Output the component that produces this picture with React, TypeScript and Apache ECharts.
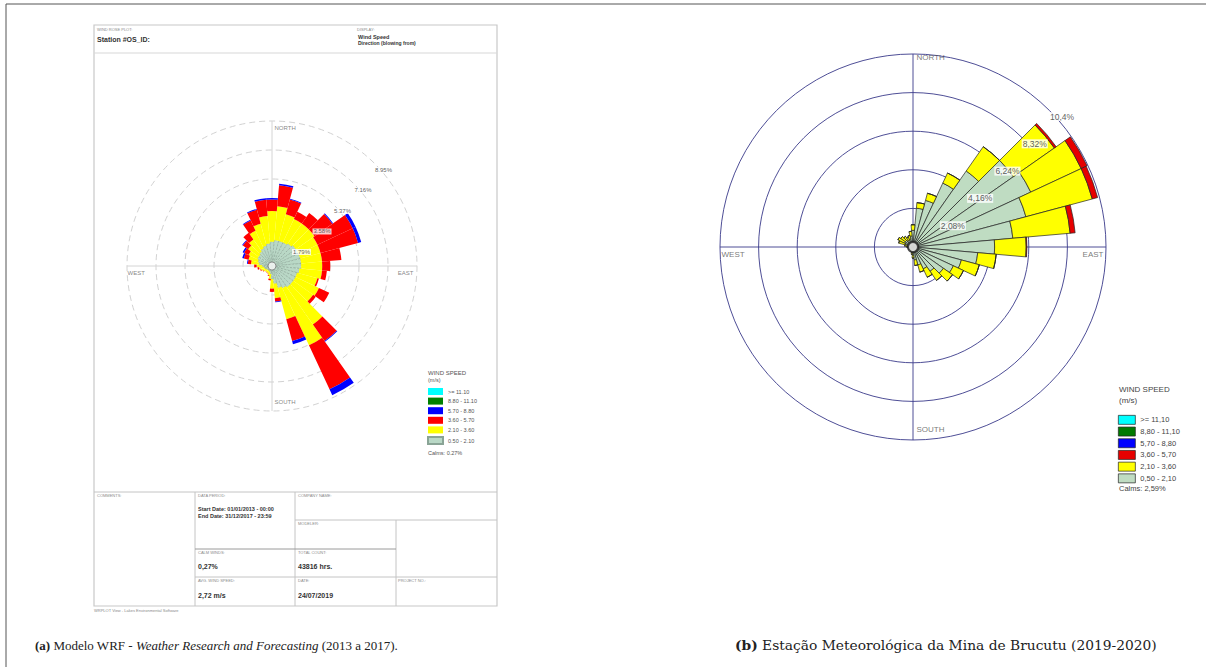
import React, { useEffect, useRef } from 'react';
import * as echarts from 'echarts';

// ---------- DATA ----------
const DIRECTIONS = ['0','10','20','30','40','50','60','70','80','90','100','110','120','130','140','150','160','170','180','190','200','210','220','230','240','250','260','270','280','290','300','310','320','330','340','350'];

const LEFT_SPEED_BANDS = ['0.50 - 2.10', '2.10 - 3.60', '3.60 - 5.70', '5.70 - 8.80', '8.80 - 11.10', '>= 11.10'];
const RIGHT_SPEED_BANDS = ['0,50 - 2,10', '2,10 - 3,60', '3,60 - 5,70', '5,70 - 8,80', '8,80 - 11,10', '>= 11,10'];

// (a) WRF model, frequency % per direction (blowing from), per speed class
const LEFT_05_21 = [1.5,1.6,1.6,1.6,1.7,1.8,1.8,1.8,1.8,1.8,1.7,1.6,1.6,1.6,1.6,1.5,1.4,1.1,0.8,0.5,0.4,0.35,0.35,0.35,0.4,0.45,0.5,0.6,0.8,0.9,1.0,1.0,1.1,1.2,1.3,1.4];
const LEFT_21_36 = [1.9,2.1,1.7,1.6,1.5,1.4,1.3,1.3,1.3,1.3,1.4,1.3,1.6,1.5,2.8,3.9,2.0,0.9,0.6,0.3,0.2,0.15,0.15,0.15,0.2,0.25,0.3,0.35,0.5,0.6,0.6,0.8,0.9,1.2,1.4,1.7];
const LEFT_36_57 = [0.7,1.3,0.95,0.5,0.8,1.35,2.4,2.4,1.2,0.5,0.3,0.1,0.7,0.2,1.25,3.0,1.4,0.2,0.2,0.1,0.05,0.03,0.02,0.02,0.03,0.05,0.1,0.15,0.2,0.3,0.3,0.4,0.5,0.7,0.9,1.0];
const LEFT_57_88 = [0.1,0.1,0.05,0,0,0.05,0.2,0.2,0,0,0,0,0,0,0.05,0.4,0.2,0.05,0,0,0,0,0,0,0,0,0,0,0.05,0.1,0.1,0.05,0,0.05,0.05,0.1];
const LEFT_88_111: number[] = [];
const LEFT_GE_111: number[] = [];

// (b) Brucutu station
const RIGHT_05_21 = [0.9,2.1,2.6,3.8,5.0,6.6,7.0,6.3,5.4,4.4,3.5,2.7,2.4,2.0,1.6,1.3,1.0,0.7,0.45,0.3,0.22,0.2,0.18,0.18,0.2,0.2,0.22,0.25,0.3,0.45,0.5,0.5,0.45,0.4,0.45,0.6];
const RIGHT_21_36 = [0.3,0.3,0.4,0.6,1.6,2.7,3.0,3.7,3.1,1.7,1.0,1.0,0.6,0.6,0.6,0.5,0.4,0.3,0.15,0.1,0.05,0.05,0.04,0.04,0.05,0.05,0.05,0.08,0.15,0.35,0.4,0.3,0.25,0.2,0.2,0.25];
const RIGHT_36_57 = [0,0,0,0,0,0.12,0.35,0.3,0.27,0.04,0,0,0,0,0,0,0,0,0,0,0,0,0,0,0,0,0,0,0,0,0,0,0,0,0,0];
const RIGHT_57_88: number[] = [];
const RIGHT_88_111: number[] = [];
const RIGHT_GE_111: number[] = [];

const LEFT_RING_VALUES = [1.79, 3.58, 5.37, 7.16, 8.95];
const LEFT_RING_LABELS = ['1.79%', '3.58%', '5.37%', '7.16%', '8.95%'];
const RIGHT_RING_VALUES = [2.08, 4.16, 6.24, 8.32, 10.4];
const RIGHT_RING_LABELS = ['2,08%', '4,16%', '6,24%', '8,32%', '10,4%'];
const RING_LABEL_ANGLE = 45;

const COMPASS_NAMES = ['NORTH', 'EAST', 'SOUTH', 'WEST'];
const COMPASS_ANGLES = [0, 90, 180, 270];

const LEFT_CALMS = 'Calms: 0.27%';
const RIGHT_CALMS = 'Calms: 2,59%';

// ---------- STYLE ----------
const SANS = "'Liberation Sans', Arial, sans-serif";
const SERIF = "'Liberation Serif', 'DejaVu Serif', serif";
const SERIF_WIDE = "'DejaVu Serif', 'Liberation Serif', serif";
const BAND_COLORS = ['#b9d8c6', '#ffff00', '#ff0000', '#0000ff', '#008000', '#00ffff'];
const RIGHT_BAND_COLORS = ['#bfdcc2', '#ffff00', '#e60000', '#0000ff', '#007a00', '#00ffff'];

const L_CENTER = [272, 266];
const L_RADIUS = 145;
const R_CENTER = [913, 247];
const R_RADIUS = 193;

function buildOption() {
  const leftData = [LEFT_05_21, LEFT_21_36, LEFT_36_57, LEFT_57_88, LEFT_88_111, LEFT_GE_111];
  const rightData = [RIGHT_05_21, RIGHT_21_36, RIGHT_36_57, RIGHT_57_88, RIGHT_88_111, RIGHT_GE_111];
  const lMax = LEFT_RING_VALUES[LEFT_RING_VALUES.length - 1];
  const rMax = RIGHT_RING_VALUES[RIGHT_RING_VALUES.length - 1];

  const leftBars = leftData.map((d, i) => ({
    type: 'bar',
    name: LEFT_SPEED_BANDS[i],
    coordinateSystem: 'polar',
    polarIndex: 0,
    stack: 'left',
    data: d,
    barCategoryGap: '0%',
    silent: true,
    itemStyle: i === 0
      ? { color: BAND_COLORS[i], borderColor: '#8aa496', borderWidth: 0.6, borderType: 'dashed' }
      : { color: BAND_COLORS[i], borderWidth: 0 },
    z: 2,
  }));
  const rightBars = rightData.map((d, i) => ({
    type: 'bar',
    name: RIGHT_SPEED_BANDS[i],
    coordinateSystem: 'polar',
    polarIndex: 1,
    stack: 'right',
    data: d,
    barCategoryGap: '0%',
    silent: true,
    itemStyle: { color: RIGHT_BAND_COLORS[i], borderColor: '#222', borderWidth: 0.7 },
    z: 2,
  }));

  const ringLabelSeries = (polarIndex: number, values: number[], labels: string[], fontSize: number, dy: number) => ({
    type: 'scatter',
    coordinateSystem: 'polar',
    polarIndex,
    symbolSize: 1,
    silent: true,
    z: 6,
    itemStyle: { color: 'rgba(0,0,0,0)' },
    data: values.map((r, i) => ({ value: [r, RING_LABEL_ANGLE], name: labels[i] })),
    label: {
      show: true, formatter: '{b}', position: [0, dy], align: 'left', verticalAlign: 'top',
      fontSize, color: '#333', fontFamily: SANS, backgroundColor: '#ffffff', padding: [0, 1],
    },
  });

  const compassSeries = (polarIndex: number, max: number, fontSize: number, offsets: number[][], color: string) => ({
    type: 'scatter',
    coordinateSystem: 'polar',
    polarIndex,
    symbolSize: 1,
    silent: true,
    z: 6,
    itemStyle: { color: 'rgba(0,0,0,0)' },
    data: COMPASS_NAMES.map((n, i) => ({
      value: [max, COMPASS_ANGLES[i]],
      name: n,
      label: { position: offsets[i], align: i === 1 ? 'right' : 'left' },
    })),
    label: { show: true, formatter: '{b}', verticalAlign: 'top', fontSize, color, fontFamily: SANS },
  });

  const centerDot = (polarIndex: number, size: number, border: string, bw: number) => ({
    type: 'scatter', coordinateSystem: 'polar', polarIndex, silent: true, z: 7,
    symbol: 'circle', symbolSize: size,
    itemStyle: { color: '#ffffff', borderColor: border, borderWidth: bw },
    data: [[0, 0]],
  });

  const gridAngle = (polarIndex: number, color: string, width: number) => ({
    polarIndex, type: 'value', min: 0, max: 360, interval: 90, startAngle: 90, clockwise: true,
    axisLine: { show: false }, axisTick: { show: false }, axisLabel: { show: false },
    splitLine: { show: true, lineStyle: { color, width } },
  });
  const gridRadius = (polarIndex: number, max: number, interval: number, color: string, width: number, type: any) => ({
    polarIndex, type: 'value', min: 0, max, interval,
    axisLine: { show: false }, axisTick: { show: false }, axisLabel: { show: false },
    splitLine: { show: true, lineStyle: { color, width, type } },
  });

  const tiny = (text: string, x: number, y: number) => ({
    type: 'text', x, y, silent: true,
    style: { text, fontSize: 4, fontFamily: SANS, fill: '#8a8a8a', align: 'left', verticalAlign: 'middle' },
  });
  const bold = (text: string, x: number, y: number, fontSize: number) => ({
    type: 'text', x, y, silent: true,
    style: { text, fontSize, fontFamily: SANS, fontWeight: 'bold', fill: '#333', align: 'left', verticalAlign: 'middle' },
  });
  const ln = (x1: number, y1: number, x2: number, y2: number, stroke = '#c4c4c4', lineWidth = 1) => ({
    type: 'line', silent: true, shape: { x1, y1, x2, y2 }, style: { stroke, lineWidth },
  });
  const txt = (text: string, x: number, y: number, fontSize: number, fill = '#444', align = 'left') => ({
    type: 'text', x, y, silent: true,
    style: { text, fontSize, fontFamily: SANS, fill, align, verticalAlign: 'middle' },
  });

  const graphic = [
    // outer page frame
    ln(6, 4, 1206, 4, '#555', 1),
    ln(6, 4, 6, 667, '#555', 1),
    // left document frame
    { type: 'rect', silent: true, shape: { x: 94, y: 25, width: 403, height: 581 }, style: { fill: 'none', stroke: '#c8c8c8', lineWidth: 1.2 } },
    ln(94, 53, 497, 53, '#d8d8d8', 1.2),
    tiny('WIND ROSE PLOT:', 97, 29),
    bold('Station #OS_ID:', 97, 39, 7),
    tiny('DISPLAY:', 357, 29),
    bold('Wind Speed', 358, 37, 5.5),
    bold('Direction (blowing from)', 358, 43, 5),
    // bottom table
    ln(94, 492, 497, 492),
    ln(195, 492, 195, 606),
    ln(295, 492, 295, 606),
    ln(396, 520, 396, 606),
    ln(295, 520, 497, 520),
    ln(195, 549, 396, 549, '#9a9a9a', 1),
    ln(195, 577, 497, 577),
    tiny('COMMENTS:', 97, 495),
    tiny('DATA PERIOD:', 198, 495),
    bold('Start Date: 01/01/2013 - 00:00', 198, 509, 5.5),
    bold('End Date: 31/12/2017 - 23:59', 198, 516, 5.5),
    tiny('COMPANY NAME:', 298, 495),
    tiny('MODELER:', 298, 523),
    tiny('CALM WINDS:', 198, 552),
    bold('0,27%', 198, 566, 7),
    tiny('TOTAL COUNT:', 298, 552),
    bold('43816 hrs.', 298, 566, 7),
    tiny('AVG. WIND SPEED:', 198, 580),
    bold('2,72 m/s', 198, 595, 7),
    tiny('DATE:', 298, 580),
    bold('24/07/2019', 298, 595, 7),
    tiny('PROJECT NO.:', 398, 580),
    tiny('WRPLOT View - Lakes Environmental Software', 94, 610),
    // left legend headings
    txt('WIND SPEED', 428, 373, 6, '#555'),
    txt('(m/s)', 428, 380, 5.5, '#555'),
    txt(LEFT_CALMS, 428, 453, 5.5, '#555'),
    // right legend headings
    txt('WIND SPEED', 1119, 389, 8, '#444'),
    txt('(m/s)', 1119, 400, 8, '#444'),
    txt(RIGHT_CALMS, 1119, 488, 7.5, '#444'),
    // captions
    {
      type: 'text', x: 35, y: 645, silent: true,
      style: {
        text: '{b|(a)} Modelo WRF - {i|Weather Research and Forecasting} (2013 a 2017).',
        fontSize: 13, fontFamily: SERIF, fill: '#222', verticalAlign: 'middle',
        rich: {
          b: { fontWeight: 'bold', fontSize: 13, fontFamily: SERIF, fill: '#222' },
          i: { fontStyle: 'italic', fontSize: 13, fontFamily: SERIF, fill: '#222' },
        },
      },
    },
    {
      type: 'text', x: 735, y: 645, silent: true,
      style: {
        text: '{b|(b)} Estação Meteorológica da Mina de Brucutu (2019-2020)',
        fontSize: 13.8, fontFamily: SERIF_WIDE, fill: '#222', verticalAlign: 'middle',
        rich: { b: { fontWeight: 'bold', fontSize: 13.8, fontFamily: SERIF_WIDE, fill: '#222' } },
      },
    },
  ];

  return {
    animation: false,
    backgroundColor: '#ffffff',
    textStyle: { fontFamily: SANS },
    polar: [
      { center: L_CENTER, radius: L_RADIUS },
      { center: R_CENTER, radius: R_RADIUS },
      { center: L_CENTER, radius: L_RADIUS },
      { center: R_CENTER, radius: R_RADIUS },
    ],
    angleAxis: [
      { polarIndex: 0, type: 'category', data: DIRECTIONS, startAngle: 95, clockwise: true, boundaryGap: true, show: false },
      { polarIndex: 1, type: 'category', data: DIRECTIONS, startAngle: 95, clockwise: true, boundaryGap: true, show: false },
      gridAngle(2, '#d4d4d4', 1),
      gridAngle(3, '#3a3a8a', 0.9),
    ],
    radiusAxis: [
      { polarIndex: 0, type: 'value', min: 0, max: lMax, show: false },
      { polarIndex: 1, type: 'value', min: 0, max: rMax, show: false },
      gridRadius(2, lMax, LEFT_RING_VALUES[0], '#d2d2d2', 1, [6, 4]),
      gridRadius(3, rMax, RIGHT_RING_VALUES[0], '#3a3a8a', 0.9, 'solid'),
    ],
    legend: [
      {
        data: [...LEFT_SPEED_BANDS].reverse(), orient: 'vertical', left: 427, top: 388,
        itemWidth: 15, itemHeight: 7, itemGap: 2.6, icon: 'rect', selectedMode: false,
        textStyle: { fontSize: 5.5, color: '#555', fontFamily: SANS, lineHeight: 7 }, padding: 0,
      },
      {
        data: [...RIGHT_SPEED_BANDS].reverse(), orient: 'vertical', left: 1118, top: 415,
        itemWidth: 17, itemHeight: 9, itemGap: 2, icon: 'rect', selectedMode: false,
        itemStyle: { borderWidth: 0.7, borderColor: '#222' },
        textStyle: { fontSize: 7.5, color: '#444', fontFamily: SANS, lineHeight: 9 }, padding: 0,
      },
    ],
    graphic,
    series: [
      ...leftBars,
      ...rightBars,
      ringLabelSeries(2, LEFT_RING_VALUES, LEFT_RING_LABELS, 6, 4),
      ringLabelSeries(3, RIGHT_RING_VALUES, RIGHT_RING_LABELS, 8.5, 2),
      compassSeries(2, lMax, 6, [[3, 4], [-3, 4], [3, -12], [1, 4]], '#666'),
      compassSeries(3, rMax, 8, [[4, 0], [-2, 4], [4, -14], [2, 4]], '#555'),
      centerDot(2, 8, '#777', 1),
      centerDot(3, 10, '#222', 2),
    ],
  };
}

export default function App() {
  const ref = useRef<HTMLDivElement>(null);
  useEffect(() => {
    if (!ref.current) return;
    const chart = echarts.init(ref.current, undefined, { renderer: 'svg', width: 1206, height: 667 });
    chart.setOption(buildOption() as any);
    return () => chart.dispose();
  }, []);
  return (
    <div
      ref={ref}
      style={{ position: 'absolute', left: 0, top: 0, width: 1206, height: 667, background: '#fff' }}
    />
  );
}
